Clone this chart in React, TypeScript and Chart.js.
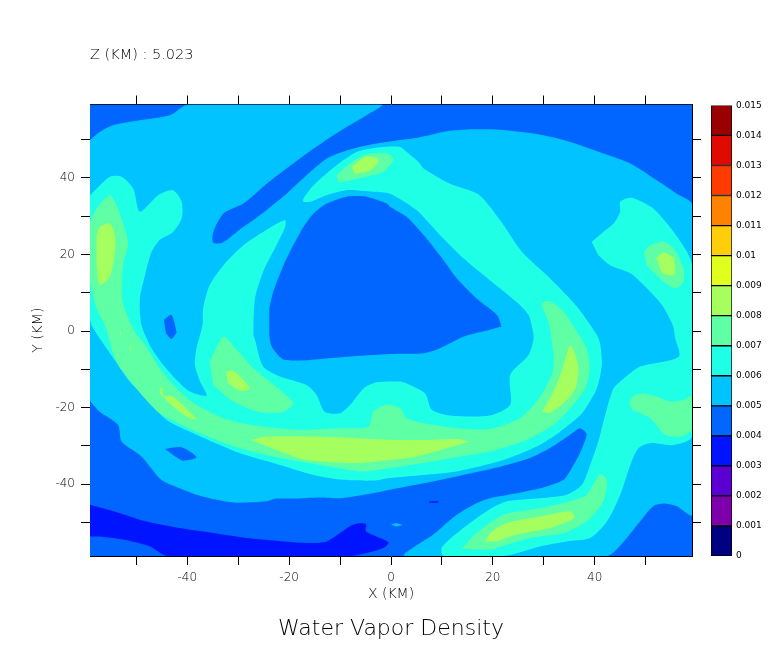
import React, { useEffect, useRef } from "react";
import { Chart, registerables } from "chart.js";

Chart.register(...registerables);

type P = [number, number];

const xTicks = [-50, -40, -30, -20, -10, 0, 10, 20, 30, 40, 50];
const yTicks = [-50, -40, -30, -20, -10, 0, 10, 20, 30, 40, 50];
const barLevels = [0, 0.001, 0.002, 0.003, 0.004, 0.005, 0.006, 0.007, 0.008, 0.009, 0.01, 0.011, 0.012, 0.013, 0.014];
const barColors = ["#000080", "#7d00aa", "#5a00d2", "#0014ff", "#0066ff", "#00c3ff", "#1effe6", "#5fffa5", "#a5ff5f", "#e1ff1e", "#ffcd0a", "#ff8200", "#ff3c00", "#e10a00", "#9b0000"];

const C3 = barColors[3], C4 = barColors[4], C5 = barColors[5], C6 = barColors[6], C7 = barColors[7], C8 = barColors[8];

const fullPlot: P[] = [[-59.1, 59.2], [59.1, 59.2], [59.1, -58.8], [-59.1, -58.8]];

const level5Main: P[] = [[-59.1, 49.9], [-57.2, 52], [-54.6, 53.8], [-49.3, 55.1], [-43.4, 56.4], [-39.8, 59.2], [-1.8, 59.2], [-4.8, 56.4], [-8.7, 53.3], [-13.3, 49.4], [-19.2, 43.8], [-24.4, 38.5], [-29, 33.3], [-32.9, 30.7], [-34.9, 25.9], [-34.9, 23.1], [-33.1, 23.1], [-30.3, 25.9], [-25.7, 30.3], [-20.5, 35.9], [-16.6, 40.7], [-12.6, 45.1], [-8.7, 47.2], [-4.1, 48.7], [1.8, 49.9], [5.2, 50.5], [11, 52.2], [16.2, 52.7], [21.4, 52.6], [28, 51.6], [33.9, 49.9], [41.7, 46.4], [47, 43.8], [52.2, 39.4], [56.1, 35.9], [59.1, 33.1], [59.1, -48], [56.1, -45.8], [53.5, -45.1], [51.5, -45.8], [48.9, -49.8], [45.7, -55], [42.4, -58.8], [2.7, -58.8], [8.3, -53.2], [12.9, -48], [16.8, -45], [19.4, -43.7], [24.7, -42.4], [29.9, -40.9], [33.9, -38.9], [35.5, -35.8], [37.1, -31.9], [38.4, -27], [37.1, -25.4], [35.2, -27.1], [31.2, -30.6], [27.3, -33.2], [20.8, -35.7], [12.9, -38], [6.4, -39.8], [-0.2, -41.5], [-3.5, -42.4], [-10, -43.7], [-13.9, -43.5], [-19.2, -43.8], [-22.5, -43.8], [-24.4, -44.5], [-31, -44.8], [-37.2, -43.2], [-41.5, -41.1], [-45.1, -38.9], [-49, -32.8], [-52.9, -28.9], [-53.6, -24.5], [-57.2, -21.1], [-59.1, -18.3]];
const level5Spot: P[] = [[0, -50.6], [1, -50.2], [2.4, -50.7], [1, -51.1]];

const level4Core: P[] = [[-23.9, 5.9], [-23.1, 10.3], [-21.1, 17.2], [-19.2, 22.4], [-17.2, 27.2], [-15.2, 30.7], [-12.6, 33.3], [-8.7, 35.1], [-4.8, 35.1], [-0.8, 33.3], [-0.2, 32.5], [3.1, 29.8], [6.4, 25.1], [9.6, 19.8], [12.9, 13.8], [16.8, 8.5], [20.8, 4.2], [21.7, 1.1], [21.4, 1.1], [19.4, 0.3], [14.2, -1.5], [9.6, -4.5], [6.4, -5.8], [-0.2, -6], [-8.7, -6.7], [-20.8, -7.6], [-23.4, -4.1], [-23.9, -1]];
const level4SpotA: P[] = [[-44.6, 2.9], [-43.1, 4.2], [-42.1, -0.2], [-42.2, -0.6], [-43.1, -2.1], [-44.2, -0.6]];
const level4SpotB: P[] = [[-44.4, -30.8], [-41.1, -30.4], [-38.2, -33], [-40.8, -33.9], [-42.4, -32.8]];

const level3Band: P[] = [[-59.1, -45.4], [-54.5, -47.1], [-48, -49.8], [-41.5, -51.5], [-34.9, -52.8], [-28.3, -54.1], [-16.6, -55.4], [-12.6, -55], [-7.4, -50.6], [-4.9, -50.4], [-4.9, -52.4], [-0.5, -55.2], [-1.5, -56.7], [-8, -58.8], [-43.9, -58.8], [-47.3, -56.3], [-52.6, -54.5], [-57.2, -53.7], [-59.1, -53.7]];
const level3Dash: P[] = [[7.5, -44.5], [9.3, -44.5], [9.3, -44.9], [7.5, -44.9]];

const level6Swirl: P[] = [[-59.1, 35.5], [-55.2, 40.3], [-52.9, 40.3], [-50.6, 37.2], [-49.3, 31.2], [-45.7, 35.5], [-42.8, 36.8], [-41.1, 33.8], [-41.1, 29.4], [-42.8, 25.9], [-45.4, 23.8], [-47, 20.7], [-48.3, 14.6], [-49.3, 8.5], [-49, 1.6], [-47, -4.5], [-44.7, -8.9], [-42.1, -12.8], [-39.5, -15.8], [-36.2, -16.9], [-37.5, -13.2], [-38.5, -8.9], [-38.2, -4.5], [-37, 1.6], [-36.9, 5.9], [-35.6, 12], [-32.9, 17.2], [-29, 22.4], [-25.1, 25.9], [-20.8, 29], [-20.8, 27.2], [-22.5, 22.4], [-25.1, 15.5], [-26.7, 8.5], [-27, -1], [-26.7, -2.3], [-25.1, -9.3], [-21.8, -11.9], [-16.6, -14.1], [-14.6, -16.7], [-13, -21.1], [-10, -21.5], [-8, -19.3], [-5.4, -15], [-2.8, -13.4], [1.8, -13.2], [3.1, -13.7], [6.7, -16.3], [8, -20.6], [11.6, -22.1], [19.4, -22.1], [23.4, -19.3], [23.4, -11.5], [27, -6.3], [28, -1.9], [27.6, 1.6], [27, 4.2], [25, 7.2], [19.4, 13.3], [14.2, 19], [9.6, 25.1], [5, 31.6], [-0.2, 35.9], [-3.5, 36.4], [-8.7, 36.8], [-12.6, 35.5], [-15.9, 33.8], [-17.2, 33.8], [-17.2, 34.6], [-15.2, 38.1], [-10.7, 43.3], [-6.7, 46.8], [-2.1, 48], [1.8, 48.1], [3.1, 46.8], [5.4, 44.2], [6.4, 42.5], [11.6, 38.5], [17.2, 35.7], [21.4, 29], [25.7, 20.7], [31.2, 13.8], [36.5, 6.4], [40.4, -1], [41.1, -3.6], [41.4, -8.9], [40.4, -15], [37.5, -21.5], [33.2, -26.3], [28.6, -30.2], [22.1, -33.7], [12.9, -36.7], [6.4, -37.6], [-0.2, -38.4], [-3.5, -39.1], [-9.4, -38.9], [-15.2, -37.6], [-21.8, -35], [-29.7, -31.9], [-38.2, -27.1], [-44.1, -23.2], [-48.7, -16.7], [-51.3, -13.2], [-54.5, -7.1], [-57.2, -1.9], [-58.8, 1.6], [-59.1, 3]];
const level6East: P[] = [[39.4, 23.3], [41.7, 25.9], [43.7, 28.1], [45, 31.2], [45, 33.8], [47.3, 34.8], [51.5, 32], [55.5, 25.9], [58.1, 20.7], [59.1, 17.2], [59.1, -27.6], [55.5, -29.8], [50.9, -29.3], [48.6, -30.6], [47, -35], [45, -42.8], [42.4, -49.8], [39.1, -54.1], [34.5, -55], [29.3, -56.3], [22.1, -58.8], [10.3, -58.8], [10, -56.5], [14.2, -51.5], [18.8, -47.1], [22.7, -44.5], [29.3, -43.7], [34.5, -42.8], [37.5, -40.2], [39.1, -35], [40.7, -28.9], [42.4, -20.2], [43.7, -15], [45.7, -12.4], [48.9, -9.3], [56.5, -6.7], [55.8, -1.9], [55.3, 1.6], [53.2, 6.8], [49.6, 12], [47, 15.1], [43, 17.2], [40.7, 19.8]];

const level7Arc: P[] = [[-59.1, 28.5], [-57.8, 32], [-55.2, 35.5], [-53.6, 32], [-51.6, 22.9], [-52.6, 17.2], [-52.7, 7.7], [-50.3, -0.2], [-48.3, -3.6], [-45.4, -9.7], [-42.1, -15], [-38.2, -19.3], [-32.9, -22.8], [-27.7, -24.5], [-18.5, -25.8], [-10.7, -25.4], [-4.4, -25], [-3.5, -21.1], [-0.8, -19.3], [1.8, -20.2], [3.1, -22.8], [6.4, -24.1], [12.9, -25.4], [19.4, -25.6], [25.3, -22.8], [29.3, -17.1], [31.9, -9.7], [31.1, 1.6], [29.6, 7.2], [31.2, 7.7], [33.9, 5], [36.5, -0.2], [38.4, -4.5], [39, -9.7], [38.1, -15], [35.2, -20.2], [31.9, -24.5], [26.7, -28.4], [19.4, -31.5], [13.6, -32.8], [6.4, -34.5], [-0.2, -35.8], [-5.4, -36.7], [-13.9, -35], [-21.8, -33.2], [-29.7, -30.6], [-38.2, -26.3], [-45.4, -21.5], [-50, -15], [-53.9, -8], [-56.2, 1.6], [-57.8, 5.9], [-59.1, 12.9]];
const level7Top: P[] = [[-10.7, 40.7], [-8, 43.8], [-4.8, 46.1], [-0.8, 46.4], [0.5, 44.9], [-1.5, 41.6], [-4.8, 40.3], [-10.3, 38.8]];
const level7East: P[] = [[49.7, 20.7], [50.9, 22.4], [53.5, 23.3], [55.5, 21.6], [57.4, 16.4], [57.4, 12.9], [55.8, 11.1], [53.2, 13.3], [50.2, 17.2]];
const level7Strip: P[] = [[46.8, -18.9], [47.6, -16.9], [49.6, -16.3], [52.2, -17.1], [54.8, -18.4], [57.4, -18], [59.1, -17.1], [59.1, -25.8], [56.8, -27.6], [53.8, -27.1], [50.9, -22.8], [47.3, -20.6]];
const level7South: P[] = [[13.9, -56.9], [16.8, -52.8], [22.1, -48], [29.3, -46.3], [35.2, -44.5], [38.4, -42.8], [41.1, -37.4], [42.4, -38.9], [41.7, -44.5], [38.4, -49.8], [33.9, -52.8], [27.3, -54.1], [19.5, -57.2]];
const level7Inner: P[] = [[-35.6, -8], [-32.9, -1.5], [-30.3, -4.9], [-27, -9.7], [-21.8, -15.4], [-19.2, -18.9], [-21.1, -21.1], [-25.7, -21.2], [-31, -18.4], [-34.9, -14.1]];

const level8West: P[] = [[-57.8, 25.1], [-57.2, 27.2], [-55.2, 28.1], [-54.2, 25.1], [-54.2, 20.7], [-55.2, 14.2], [-57.2, 12], [-57.8, 17.2]];
const level8Top: P[] = [[-7.7, 42.9], [-5.1, 45.5], [-2.8, 45.2], [-2.5, 44.2], [-4.1, 42], [-7.1, 41]];
const level8East: P[] = [[52.1, 19], [53.5, 20.5], [55.5, 19], [55.6, 14.6], [53.2, 15.1]];
const level8Inner: P[] = [[-32.4, -10.8], [-31, -10.3], [-27.7, -15], [-29.7, -15.6], [-32, -13.6]];
const level8Sliver: P[] = [[-45.4, -14.8], [-44.9, -14.8], [-44.7, -16.9], [-42.8, -17.1], [-38.2, -23], [-39.5, -22.8], [-42.8, -19.7], [-45.4, -16.3]];
const level8Main: P[] = [[-27.5, -28.5], [-24.4, -27.6], [-15.2, -27.6], [-6.7, -28], [1.8, -28.5], [6.4, -28.5], [12.9, -28.2], [15.2, -28.9], [11, -30.6], [5, -32.8], [-0.2, -33.7], [-6.7, -34.5], [-16.6, -33.7], [-22.5, -31.1]];
const level8Right: P[] = [[29.7, -21.1], [31.9, -15.8], [33.5, -10.6], [35.2, -3.8], [36.8, -9.3], [36.2, -15], [33.9, -18.9], [31.2, -21.5]];
const level8South: P[] = [[18.5, -55], [19.5, -52.8], [22.7, -50.2], [29.3, -48.5], [35.2, -47.1], [36, -48.9], [31.2, -51.5], [24.7, -53.2], [20.8, -55]];
const level8DashA: P[] = [[-53.2, 0], [-53, 0], [-53, -1], [-53.2, -1]];
const level8DashB: P[] = [[-51.3, -3.6], [-51.1, -3.6], [-51.1, -5], [-51.3, -5]];

const layers: [P[], string][] = [
  [fullPlot, C4],
  [level5Main, C5],
  [level4Core, C4],
  [level4SpotA, C4],
  [level4SpotB, C4],
  [level3Band, C3],
  [level3Dash, C3],
  [level5Spot, C5],
  [level6Swirl, C6],
  [level6East, C6],
  [level7Arc, C7],
  [level7Top, C7],
  [level7East, C7],
  [level7Strip, C7],
  [level7South, C7],
  [level7Inner, C7],
  [level8West, C8],
  [level8Top, C8],
  [level8East, C8],
  [level8Inner, C8],
  [level8Sliver, C8],
  [level8Main, C8],
  [level8Right, C8],
  [level8South, C8],
  [level8DashA, C8],
  [level8DashB, C8],
];

const titleText = "Water Vapor Density";
const heightText = "Z (KM) : 5.023";
const FONT = "'DejaVu Sans'";
const INK = "#000";

function fixedBox(size: number) {
  return (axis: any) => {
    if (axis.isHorizontal()) axis.height = size;
    else axis.width = size;
  };
}

function frameGrid() {
  return { drawOnChartArea: false, drawTicks: true, tickLength: 9, color: "#000", lineWidth: 1 };
}

export default function App() {
  const mainRef = useRef<HTMLCanvasElement>(null);
  const barRef = useRef<HTMLCanvasElement>(null);

  useEffect(() => {
    const ordered = [...layers].reverse();
    const label = (v: any) => (Number(v) % 20 === 0 ? String(v) : "");
    const main = new Chart(mainRef.current!, {
      type: "line",
      data: {
        datasets: ordered.map(([pts, color]) => ({
          data: pts.map(([x, y]) => ({ x, y })),
          backgroundColor: color,
          borderWidth: 0,
          pointRadius: 0,
          tension: pts.length <= 4 ? 0 : 0.25,
          fill: "shape",
        })),
      },
      options: {
        responsive: false,
        animation: false,
        devicePixelRatio: 1,
        layout: { padding: 0 },
        plugins: {
          legend: { display: false },
          tooltip: { enabled: false },
          title: {
            display: true,
            text: titleText,
            position: "bottom",
            fullSize: false,
            color: INK,
            font: { family: FONT, size: 22, weight: "200", lineHeight: 1 },
            padding: { top: 0, bottom: 22 },
          },
          subtitle: {
            display: true,
            text: heightText,
            position: "top",
            align: "start",
            fullSize: false,
            color: INK,
            font: { family: FONT, size: 14.5, weight: "200", lineHeight: 1 },
            padding: { top: 48, bottom: 0 },
          },
        },
        scales: {
          x: {
            type: "linear",
            position: "bottom",
            min: -59.1,
            max: 59.1,
            afterBuildTicks: (a: any) => { a.ticks = xTicks.map((value) => ({ value })); },
            afterFit: fixedBox(62),
            grid: frameGrid(),
            border: { color: "#000", width: 1 },
            ticks: { callback: label, maxRotation: 0, autoSkip: false, color: INK, padding: 6, font: { family: FONT, size: 12, weight: "200" } },
            title: { display: true, text: "X (KM)", color: INK, font: { family: FONT, size: 14, weight: "200" }, padding: { top: 15, bottom: 15 } },
          },
          xTop: {
            type: "linear",
            position: "top",
            min: -59.1,
            max: 59.1,
            afterBuildTicks: (a: any) => { a.ticks = xTicks.map((value) => ({ value })); },
            afterFit: fixedBox(42),
            grid: frameGrid(),
            border: { color: "#000", width: 1 },
            ticks: { callback: () => "", maxRotation: 0, autoSkip: false },
          },
          y: {
            type: "linear",
            position: "left",
            min: -58.8,
            max: 59.2,
            afterBuildTicks: (a: any) => { a.ticks = yTicks.map((value) => ({ value })); },
            afterFit: fixedBox(90),
            grid: frameGrid(),
            border: { color: "#000", width: 1 },
            ticks: { callback: label, autoSkip: false, color: INK, padding: 6, font: { family: FONT, size: 12, weight: "200" } },
            title: { display: true, text: "Y (KM)", color: INK, font: { family: FONT, size: 14, weight: "200" }, padding: { top: 30, bottom: 30 } },
          },
          yRight: {
            type: "linear",
            position: "right",
            min: -58.8,
            max: 59.2,
            afterBuildTicks: (a: any) => { a.ticks = yTicks.map((value) => ({ value })); },
            afterFit: fixedBox(76),
            grid: frameGrid(),
            border: { color: "#000", width: 1 },
            ticks: { callback: () => "", autoSkip: false },
          },
        },
      } as any,
    });

    const bar = new Chart(barRef.current!, {
      type: "bar",
      data: {
        labels: ["density"],
        datasets: barLevels.map((_, i) => ({
          data: [0.001],
          backgroundColor: barColors[i],
          borderColor: "#000",
          borderWidth: 1,
          borderSkipped: false,
          categoryPercentage: 1,
          barPercentage: 1,
          stack: "levels",
        })),
      },
      options: {
        responsive: false,
        animation: false,
        devicePixelRatio: 1,
        layout: { padding: { left: 6, right: 0, top: 8, bottom: 10 } },
        plugins: { legend: { display: false }, tooltip: { enabled: false } },
        scales: {
          x: { display: false, stacked: true },
          y: {
            position: "right",
            stacked: true,
            min: 0,
            max: 0.015,
            afterBuildTicks: (a: any) => {
              a.ticks = [...barLevels, 0.015].map((value) => ({ value }));
            },
            afterFit: fixedBox(36),
            grid: { display: false, drawTicks: false },
            border: { display: false },
            ticks: {
              callback: (v: any) => String(Math.round(Number(v) * 1000) / 1000),
              autoSkip: false,
              color: INK,
              padding: 4,
              font: { family: FONT, size: 9 },
            },
          },
        },
      } as any,
    });

    return () => {
      main.destroy();
      bar.destroy();
    };
  }, []);

  return (
    <div style={{ position: "absolute", left: 0, top: 0, width: 768, height: 662, background: "#fff", overflow: "hidden" }}>
      <canvas ref={mainRef} width={768} height={662} style={{ position: "absolute", left: 0, top: 0 }} />
      <canvas ref={barRef} width={63} height={470} style={{ position: "absolute", left: 705, top: 96 }} />
    </div>
  );
}
